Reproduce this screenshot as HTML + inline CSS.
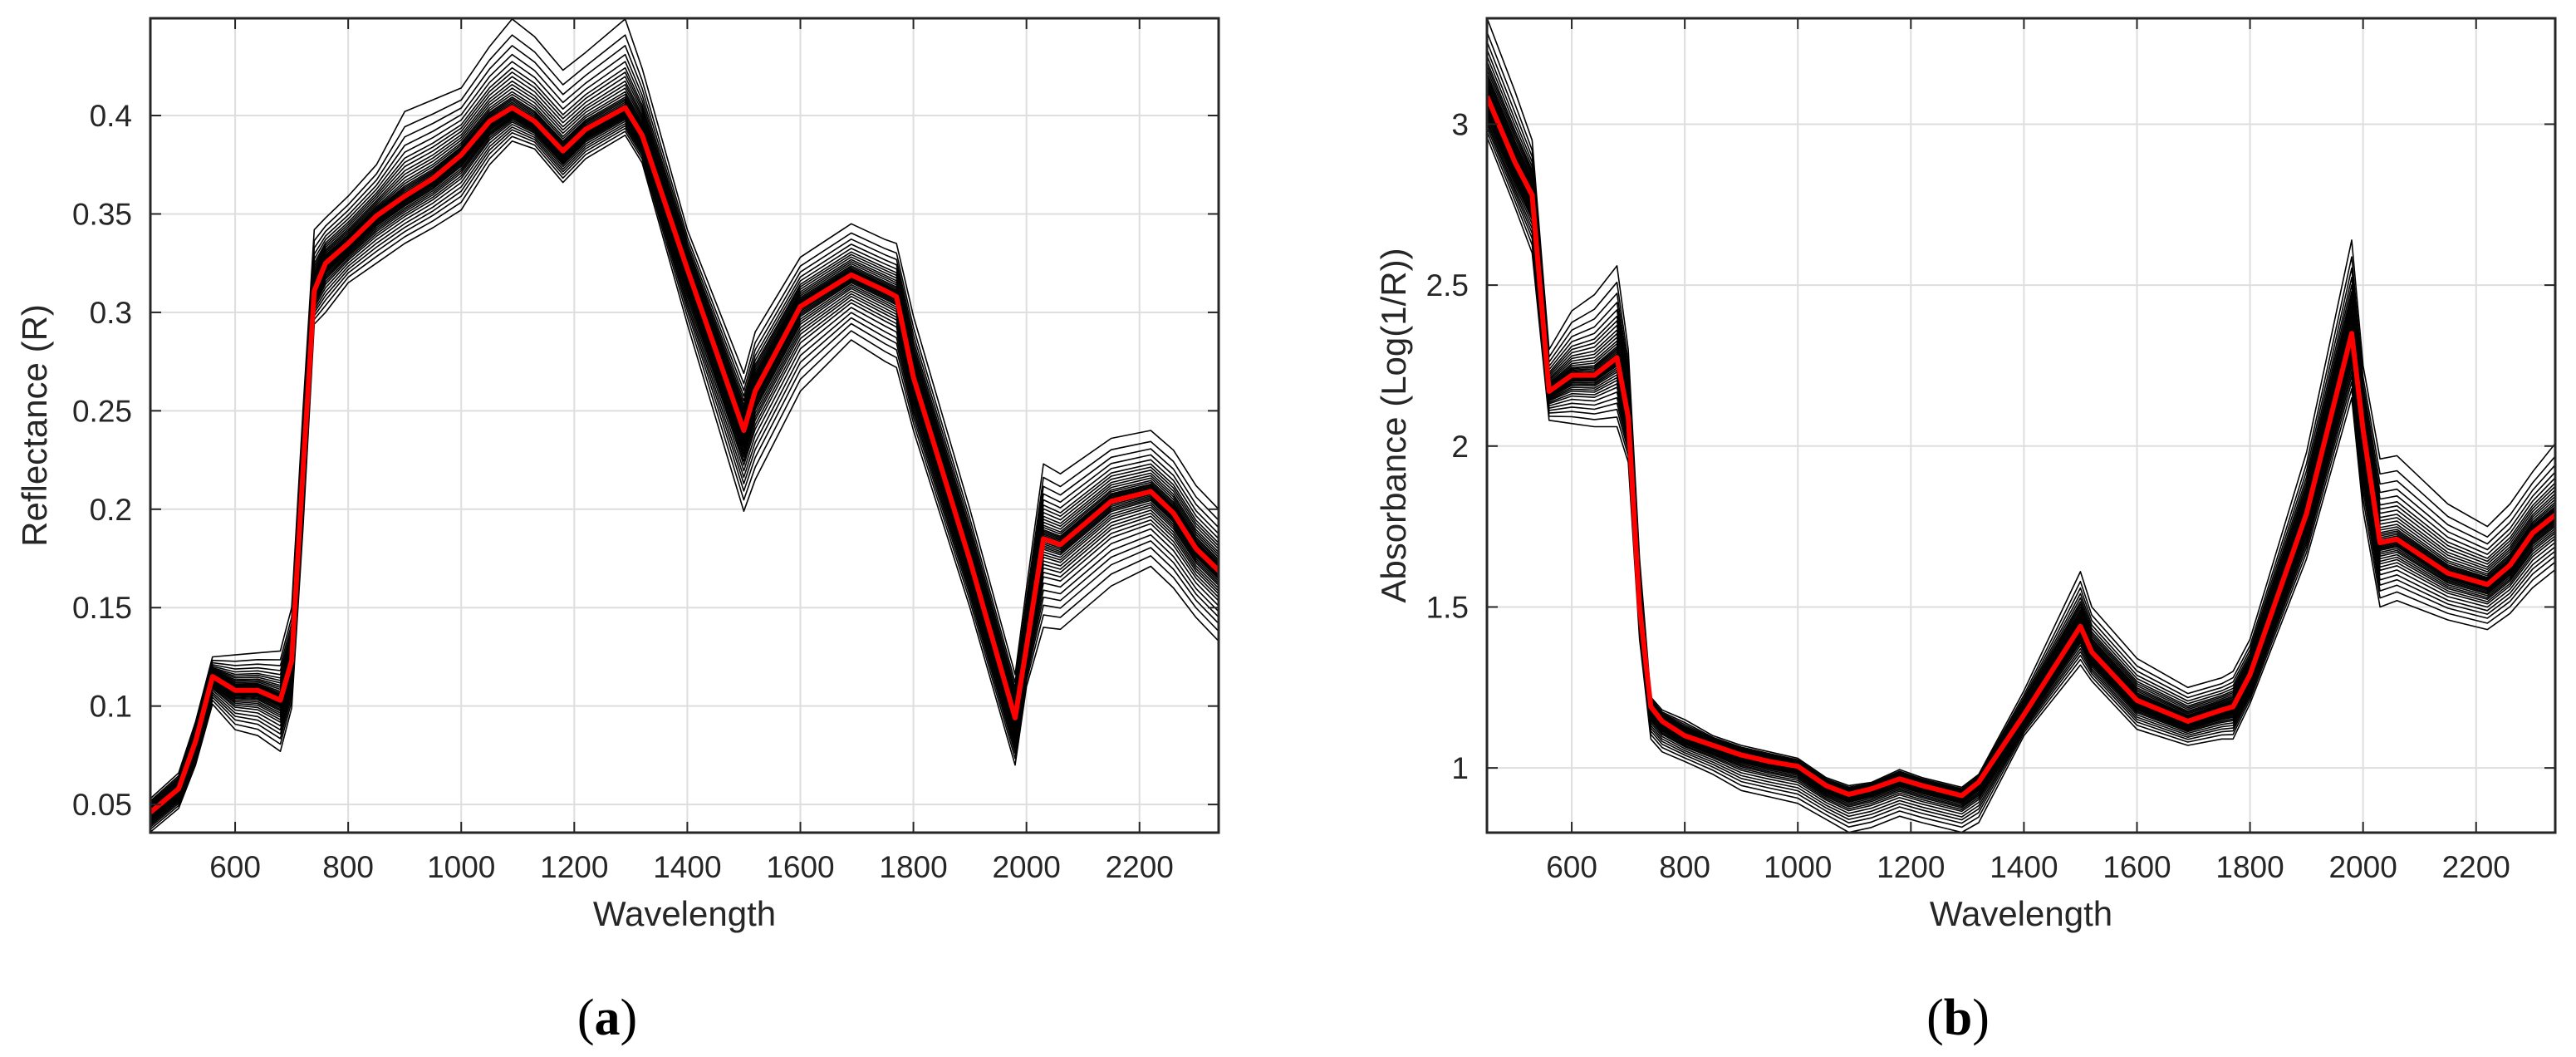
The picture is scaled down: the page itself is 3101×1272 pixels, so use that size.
<!DOCTYPE html>
<html><head><meta charset="utf-8">
<style>
html,body{margin:0;padding:0;background:#fff;}
svg{display:block;}
text{font-family:"Liberation Sans",sans-serif;fill:#262626;}
.cap{font-family:"Liberation Serif",serif;fill:#000;}
</style></head>
<body>
<svg id="fig" width="3101" height="1272" viewBox="0 0 3101 1272" xmlns="http://www.w3.org/2000/svg"></svg>
<script>
const wavelengths=[450,500,530,560,600,640,680,700,720,740,760,800,850,900,950,1000,1050,1090,1130,1180,1220,1290,1320,1400,1500,1520,1600,1690,1750,1770,1800,1900,1980,2000,2030,2060,2150,2220,2260,2300,2350];
const reflMean=[.046,.058,.082,.115,.108,.108,.103,.123,.219,.311,.325,.335,.349,.359,.368,.380,.397,.404,.397,.382,.393,.404,.390,.322,.240,.260,.303,.319,.311,.308,.267,.174,.094,.130,.185,.182,.204,.209,.198,.180,.166];
const reflUpper=[.053,.066,.092,.125,.126,.127,.128,.150,.250,.342,.348,.359,.375,.402,.408,.414,.435,.449,.440,.423,.432,.449,.424,.342,.269,.290,.328,.345,.337,.335,.298,.200,.116,.160,.223,.218,.236,.240,.230,.212,.197];
const reflLower=[.036,.048,.070,.101,.088,.085,.077,.099,.190,.294,.300,.315,.325,.335,.343,.352,.375,.387,.383,.366,.378,.390,.376,.294,.199,.215,.260,.286,.275,.272,.240,.150,.070,.110,.140,.139,.161,.171,.160,.145,.130];
const absMean=[3.086,2.88,2.78,2.17,2.22,2.22,2.275,2.09,1.50,1.19,1.145,1.10,1.07,1.04,1.02,1.005,.945,.918,.935,.966,.945,.914,.956,1.165,1.44,1.36,1.21,1.145,1.18,1.19,1.29,1.79,2.35,2.05,1.70,1.71,1.605,1.57,1.63,1.73,1.80];
const absUpper=[3.33,3.10,2.95,2.30,2.42,2.47,2.56,2.30,1.65,1.22,1.18,1.15,1.10,1.07,1.05,1.03,.97,.945,.955,.995,.97,.94,.98,1.24,1.61,1.50,1.34,1.25,1.28,1.30,1.40,1.98,2.64,2.25,1.96,1.97,1.82,1.75,1.82,1.92,2.03];
const absLower=[2.96,2.74,2.60,2.08,2.07,2.06,2.06,1.95,1.40,1.09,1.05,1.02,.98,.93,.91,.89,.84,.80,.815,.85,.83,.80,.83,1.10,1.32,1.27,1.12,1.07,1.09,1.09,1.20,1.65,2.15,1.80,1.50,1.52,1.46,1.43,1.48,1.56,1.63];
const sampleWeights=[1,.82,.7,.6,.52,.45,.4,.35,.3,.26,.22,.18,.15,.12,.1,.08,.06,.04,.02,0,-.02,-.04,-.06,-.08,-.1,-.12,-.15,-.18,-.21,-.25,-.29,-.33,-.38,-.43,-.5,-.58,-.66,-.75,-.86,-1];
const xTicks=[600,800,1000,1200,1400,1600,1800,2000,2200];
const reflTicks=[0.05,0.1,0.15,0.2,0.25,0.3,0.35,0.4];
const reflTickLabels=["0.05","0.1","0.15","0.2","0.25","0.3","0.35","0.4"];
const absTicks=[1,1.5,2,2.5,3];
const absTickLabels=["1","1.5","2","2.5","3"];

const NS="http://www.w3.org/2000/svg";
const svg=document.getElementById('fig');
function mk(tag,attrs,parent){const e=document.createElementNS(NS,tag);for(const k in attrs)e.setAttribute(k,attrs[k]);(parent||svg).appendChild(e);return e;}

function panel(opt){
  const g=mk('g',{});
  
  
  const L=opt.left,R=opt.right,T=22,B=1002;
  const X=v=>L+(v-450)/(2340-450)*(R-L);
  const Y=v=>B-(v-opt.ymin)/(opt.ymax-opt.ymin)*(B-T);
  mk('clipPath',{id:opt.name+'-clip'},g).appendChild(mk('rect',{x:L,y:T,width:R-L,height:B-T},g));
  xTicks.forEach(t=>{const l=mk('line',{x1:X(t),x2:X(t),y1:T,y2:B,stroke:'#dedede','stroke-width':2},g);
    });
  opt.ticks.forEach(t=>{const l=mk('line',{x1:L,x2:R,y1:Y(t),y2:Y(t),stroke:'#dedede','stroke-width':2},g);
    });
  const cg=mk('g',{'clip-path':'url(#'+opt.name+'-clip)'},g);
  sampleWeights.forEach(w=>{
    const pts=wavelengths.map((wl,i)=>{const m=opt.mean[i];const v=w>=0?m+w*(opt.upper[i]-m):m+w*(m-opt.lower[i]);return X(wl).toFixed(1)+','+Y(v).toFixed(1);}).join(' ');
    const p=mk('polyline',{points:pts,fill:'none',stroke:'#000','stroke-width':1.6,'stroke-linejoin':'round'},cg);
    
    
  });
  const mp=mk('polyline',{points:wavelengths.map((wl,i)=>X(wl).toFixed(1)+','+Y(opt.mean[i]).toFixed(1)).join(' '),fill:'none',stroke:'#ff0000','stroke-width':6,'stroke-linejoin':'round'},cg);
  
  
  const box=mk('rect',{x:L,y:T,width:R-L,height:B-T,fill:'none',stroke:'#262626','stroke-width':3},g);
  
  xTicks.forEach(t=>{
    mk('line',{x1:X(t),x2:X(t),y1:B,y2:B-13,stroke:'#262626','stroke-width':2},g);
    mk('line',{x1:X(t),x2:X(t),y1:T,y2:T+13,stroke:'#262626','stroke-width':2},g);
    const tx=mk('text',{x:X(t),y:1056,'text-anchor':'middle','font-size':37},g);tx.textContent=t;
    
  });
  opt.ticks.forEach((t,i)=>{
    mk('line',{x1:L,x2:L+13,y1:Y(t),y2:Y(t),stroke:'#262626','stroke-width':2},g);
    mk('line',{x1:R,x2:R-13,y1:Y(t),y2:Y(t),stroke:'#262626','stroke-width':2},g);
    const tx=mk('text',{x:L-22,y:Y(t)+13,'text-anchor':'end','font-size':37},g);tx.textContent=opt.labels[i];
    
  });
  const xl=mk('text',{x:(L+R)/2,y:1114,'text-anchor':'middle','font-size':42},g);xl.textContent='Wavelength';
  
  const yl=mk('text',{x:opt.ylx,y:(T+B)/2,'text-anchor':'middle','font-size':42,transform:'rotate(-90 '+opt.ylx+' '+(T+B)/2+')'},g);yl.textContent=opt.ytitle;
  
  const cap=mk('text',{x:opt.capx,y:1245,'text-anchor':'middle','font-size':62,class:'cap'},g);
  cap.innerHTML='(<tspan font-weight="bold">'+opt.cap+'</tspan>)';
  
}
panel({name:'reflectance-chart',left:181,right:1467,ymin:0.0357,ymax:0.4494,mean:reflMean,upper:reflUpper,lower:reflLower,ticks:reflTicks,labels:reflTickLabels,ytitle:'Reflectance (R)',ylx:56,capx:731,cap:'a'});
panel({name:'absorbance-chart',left:1790,right:3076,ymin:0.799,ymax:3.329,mean:absMean,upper:absUpper,lower:absLower,ticks:absTicks,labels:absTickLabels,ytitle:'Absorbance (Log(1/R))',ylx:1692,capx:2357,cap:'b'});
</script>
</body></html>
